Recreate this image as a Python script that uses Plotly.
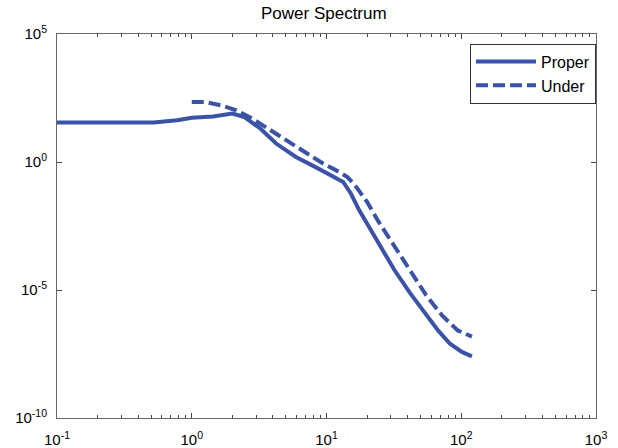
import plotly.graph_objects as go

# Data (log-log power spectrum)
proper_x = [0.1, 0.25, 0.52, 0.78, 1.0, 1.44, 2.0, 2.45, 3.24, 4.23, 5.93, 8.3, 11.6, 13.3,
            15.2, 17.5, 21.4, 26.2, 32.0, 42.0, 55.0, 67.3, 82.4, 101, 120]
proper_y = [34.7, 34.7, 34.7, 42.7, 53.7, 60.3, 77.6, 57.5, 20.0, 5.25, 1.58, 0.63, 0.257, 0.166,
            0.0575, 0.0129, 2.14e-3, 3.55e-4, 5.89e-5, 7.24e-6, 1.02e-6, 2.63e-7, 7.94e-8, 3.80e-8, 2.57e-8]

under_x = [1.0, 1.26, 1.66, 2.14, 2.82, 3.70, 4.84, 6.76, 9.5, 12.4, 14.3, 16.3, 20.0, 24.4,
           32.0, 42.0, 55.0, 72.0, 94.2, 120]
under_y = [219, 219, 162, 105, 49, 20, 8.1, 2.9, 0.85, 0.41, 0.257, 0.123, 0.0275, 4.57e-3,
           4.79e-4, 5.0e-5, 6.17e-6, 1.02e-6, 2.63e-7, 1.51e-7]

x_tickvals = [0.1, 1, 10, 100, 1000]
x_ticktext = ["10<sup>-1</sup>", "10<sup>0</sup>", "10<sup>1</sup>", "10<sup>2</sup>", "10<sup>3</sup>"]
y_tickvals = [1e-10, 1e-5, 1, 1e5]
y_ticktext = ["10<sup>-10</sup>", "10<sup>-5</sup>", "10<sup>0</sup>", "10<sup>5</sup>"]

color = "#3a53a6"
font = "Liberation Sans, Arial, sans-serif"

fig = go.Figure()
fig.add_trace(go.Scatter(x=proper_x, y=proper_y, mode="lines", name="Proper",
                         line=dict(color=color, width=4)))
fig.add_trace(go.Scatter(x=under_x, y=under_y, mode="lines", name="Under",
                         line=dict(color=color, width=4, dash="12px,5px")))

axis_common = dict(showline=True, linecolor="#666666", linewidth=1, mirror="ticks",
                   ticks="inside", tickcolor="#444444", showgrid=False, zeroline=False,
                   automargin=False,
                   tickfont=dict(family=font, size=15, color="#000000"))

fig.update_xaxes(type="log", range=[-1, 3], tickvals=x_tickvals, ticktext=x_ticktext,
                 ticklen=5, ticklabelstandoff=8,
                 minor=dict(ticks="inside", ticklen=3, dtick="D1", tickcolor="#444444"),
                 **axis_common)
fig.update_yaxes(type="log", range=[-10, 5], tickvals=y_tickvals, ticktext=y_ticktext,
                 ticklen=5, ticklabelstandoff=6, **axis_common)

fig.update_layout(
    width=618, height=448,
    margin=dict(l=57, r=22, t=34, b=30),
    paper_bgcolor="white", plot_bgcolor="white",
    title=dict(text="Power Spectrum", x=0.524, xanchor="center", y=0.97, yanchor="middle",
               font=dict(family=font, size=17, color="#000000")),
    showlegend=True,
    legend=dict(x=1, xanchor="right", y=0.975, yanchor="top",
                bordercolor="#333333", borderwidth=1, bgcolor="white",
                font=dict(family=font, size=16, color="#000000"),
                itemwidth=60, tracegroupgap=0),
)

fig.write_html("out.html")
